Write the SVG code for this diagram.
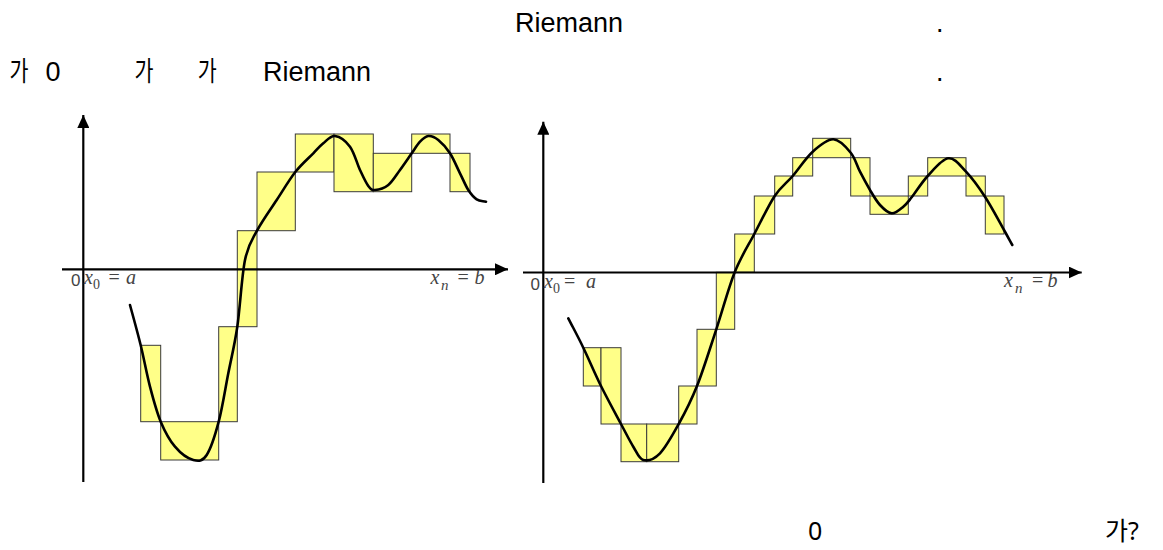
<svg xmlns="http://www.w3.org/2000/svg" width="1163" height="550" viewBox="0 0 1163 550">
<style>
.t{font-family:"Liberation Sans","Noto Sans CJK KR",sans-serif;font-size:27px;fill:#000}
.b{font-family:"Noto Sans","Noto Sans CJK KR",sans-serif;font-size:25px;fill:#000}
.bar{fill:#ffff88;stroke:#3a3a3a;stroke-width:1}
.axis{stroke:#000;stroke-width:2.2;fill:none}
.curve{stroke:#000;stroke-width:2.6;fill:none;stroke-linejoin:round;stroke-linecap:round}
.zero{font-family:"Liberation Sans",sans-serif;font-size:17px;fill:#444}
.m{font-family:"Liberation Serif",serif;font-style:italic;font-size:20px;fill:#444}
.s{font-family:"Liberation Serif",serif;font-size:14px;fill:#444}
.e{font-family:"Liberation Serif",serif;font-size:20px;fill:#444}
</style>
<defs>
<marker id="arr" markerUnits="userSpaceOnUse" markerWidth="14" markerHeight="12" refX="13" refY="6" orient="auto">
<path d="M0,0 L13,6 L0,12 Z" fill="#000"/>
</marker>
</defs>
<rect width="1163" height="550" fill="#fff"/>

<g id="text-top">
<text class="t" x="515" y="31.7">Riemann</text>
<text class="t" x="936" y="31.7">.</text>
<text class="t" x="9.5" y="81" textLength="19" lengthAdjust="spacingAndGlyphs">가</text>
<text class="t" x="45.5" y="81">0</text>
<text class="t" x="134.5" y="81" textLength="19" lengthAdjust="spacingAndGlyphs">가</text>
<text class="t" x="197.8" y="81" textLength="19" lengthAdjust="spacingAndGlyphs">가</text>
<text class="t" x="263" y="81">Riemann</text>
<text class="t" x="936" y="81">.</text>
</g>

<g id="graph-left">
<g id="bars-left">
<rect class="bar" x="140.7" y="345.3" width="20" height="76.4"/>
<rect class="bar" x="160.7" y="421.7" width="58" height="38.3"/>
<rect class="bar" x="218.7" y="326.7" width="18.6" height="95"/>
<rect class="bar" x="237.3" y="230.7" width="19.7" height="96"/>
<rect class="bar" x="257" y="172" width="38.3" height="58.7"/>
<rect class="bar" x="295.3" y="134" width="38.7" height="38"/>
<rect class="bar" x="334" y="134" width="39.3" height="57.7"/>
<rect class="bar" x="373.3" y="153.3" width="38.4" height="38.4"/>
<rect class="bar" x="411.7" y="134" width="38.3" height="19.3"/>
<rect class="bar" x="450" y="153.3" width="20" height="38.4"/>
</g>
<g id="axes-left">
<line class="axis" x1="83.3" y1="482" x2="83.3" y2="115" marker-end="url(#arr)"/>
<line class="axis" x1="62" y1="269.3" x2="508" y2="269.3" marker-end="url(#arr)"/>
</g>
<path id="curve-left" class="curve" d="M130,305 C133.6,318.4 137.4,331.7 140.7,345.3 C144,358.9 146.7,374 150,386.7 C153.3,399.4 156.5,411.7 160.7,421.7 C164.9,431.7 169.6,440.3 175,446.7 C180.4,453.1 188,458.6 193.3,460 C198.6,461.4 202.5,461.4 206.7,455 C210.9,448.6 215.1,435.3 218.7,421.7 C222.3,408.1 225.2,389.1 228.3,373.3 C231.4,357.5 234.5,345.6 237.3,326.7 C240.1,307.8 241.7,276 245,260 C248.3,244 251.7,240.7 257,230.7 C262.3,220.7 270.3,209.8 276.7,200 C283.1,190.2 289.2,179.8 295.3,172 C301.4,164.2 308.6,158.1 313.3,153.3 C318,148.5 319.7,146.2 323.3,143.3 C326.9,140.4 330.5,135.4 335,136 C339.5,136.6 345.8,141 350,146.7 C354.2,152.4 356.9,163.4 360,170 C363.1,176.6 365.8,182.7 368.3,186 C370.8,189.3 371.7,190.2 375,190 C378.3,189.8 384.1,188.3 388.3,185 C392.5,181.7 396.1,175.3 400,170 C403.9,164.7 408.4,158 411.7,153.3 C415,148.6 417.2,144.6 420,141.7 C422.8,138.8 425.2,136.3 428.3,136 C431.4,135.7 434.7,137.1 438.3,140 C441.9,142.9 446.4,147.7 450,153.3 C453.6,158.9 456.9,167.2 460,173.3 C463.1,179.4 465.5,185.7 468.3,190 C471.1,194.3 473.7,197.3 476.7,199.3 C479.7,201.3 482.9,200.9 486,201.7"/>
<g id="labels-left">
<text class="zero" x="71" y="286">0</text>
<text class="m" x="84" y="284">x</text>
<text class="s" x="93" y="289">0</text>
<text class="e" x="108.5" y="284">=</text>
<text class="m" x="126" y="284">a</text>
<text class="m" x="430.5" y="284">x</text>
<text class="m" x="441" y="289.5" style="font-size:15px">n</text>
<text class="e" x="457.5" y="284">=</text>
<text class="m" x="474.5" y="284">b</text>
</g>
</g>

<g id="graph-right">
<g id="bars-right">
<rect class="bar" x="583.3" y="347.7" width="17.7" height="38.3"/>
<rect class="bar" x="601" y="347.7" width="20" height="76.3"/>
<rect class="bar" x="621" y="424" width="25.7" height="37.7"/>
<rect class="bar" x="646.7" y="424" width="32" height="37.7"/>
<rect class="bar" x="678.7" y="386" width="18.3" height="38"/>
<rect class="bar" x="697" y="329.3" width="19.3" height="56.7"/>
<rect class="bar" x="716.3" y="272.3" width="18.4" height="57"/>
<rect class="bar" x="734.7" y="234" width="19.6" height="38.3"/>
<rect class="bar" x="754.3" y="196" width="20.4" height="38"/>
<rect class="bar" x="774.7" y="176" width="18" height="20"/>
<rect class="bar" x="792.7" y="157.7" width="20" height="18.3"/>
<rect class="bar" x="812.7" y="138.3" width="38" height="19.4"/>
<rect class="bar" x="850.7" y="157.7" width="19.3" height="38.3"/>
<rect class="bar" x="870" y="196" width="38.3" height="18.3"/>
<rect class="bar" x="908.3" y="176" width="19.4" height="20"/>
<rect class="bar" x="927.7" y="157.7" width="38.3" height="18.3"/>
<rect class="bar" x="966" y="176" width="19.3" height="20"/>
<rect class="bar" x="985.3" y="196" width="18.7" height="38"/>
</g>
<g id="axes-right">
<line class="axis" x1="543.3" y1="483" x2="543.3" y2="121.7" marker-end="url(#arr)"/>
<line class="axis" x1="523" y1="272.5" x2="1081.7" y2="272.5" marker-end="url(#arr)"/>
</g>
<path id="curve-right" class="curve" d="M568.3,318.3 C573.3,328.1 577.9,336.4 583.3,347.7 C588.8,359 594.7,373.3 601,386 C607.3,398.7 615.6,413.9 621,424 C626.4,434.1 629.6,440.7 633.3,446.7 C637,452.7 638.9,458.9 643.3,460 C647.8,461.1 654.1,459.3 660,453.3 C665.9,447.3 672.5,435.2 678.7,424 C684.9,412.8 690.7,401.8 697,386 C703.3,370.2 710,348.3 716.3,329.3 C722.6,310.3 728.4,288.2 734.7,272.3 C741,256.4 747.6,246.7 754.3,234 C761,221.3 768.3,205.7 774.7,196 C781.1,186.3 786.4,183.4 792.7,176 C799,168.6 805.9,157.8 812.7,151.7 C819.5,145.6 827,139.1 833.3,139.3 C839.6,139.5 846.3,147.3 850.7,152.7 C855.2,158.1 856.8,165.5 860,171.7 C863.2,177.9 866.7,184.4 870,190 C873.3,195.6 876.4,201.1 880,205 C883.6,208.9 887.8,213 891.7,213.3 C895.6,213.6 900,209.4 903.3,206.7 C906.6,204 907.6,202.4 911.7,197.3 C915.8,192.2 921.6,182.5 927.7,176 C933.8,169.5 941.9,159 948.3,158.3 C954.7,157.6 959.8,165.2 966,171.7 C972.2,178.2 979,187.6 985.3,197.3 C991.6,207 999.5,222.05 1004,230 C1008.5,237.95 1009.5,240 1012.3,245"/>
<g id="labels-right">
<text class="zero" x="530.5" y="290">0</text>
<text class="m" x="544" y="288">x</text>
<text class="s" x="553" y="293">0</text>
<text class="e" x="564" y="288">=</text>
<text class="m" x="586" y="288">a</text>
<text class="m" x="1004" y="287">x</text>
<text class="m" x="1015" y="292.5" style="font-size:15px">n</text>
<text class="e" x="1032" y="287">=</text>
<text class="m" x="1047.5" y="287">b</text>
</g>
</g>

<g id="text-bottom">
<text class="b" x="808" y="540">0</text>
<text class="b" x="1105" y="540">가?</text>
</g>
</svg>
